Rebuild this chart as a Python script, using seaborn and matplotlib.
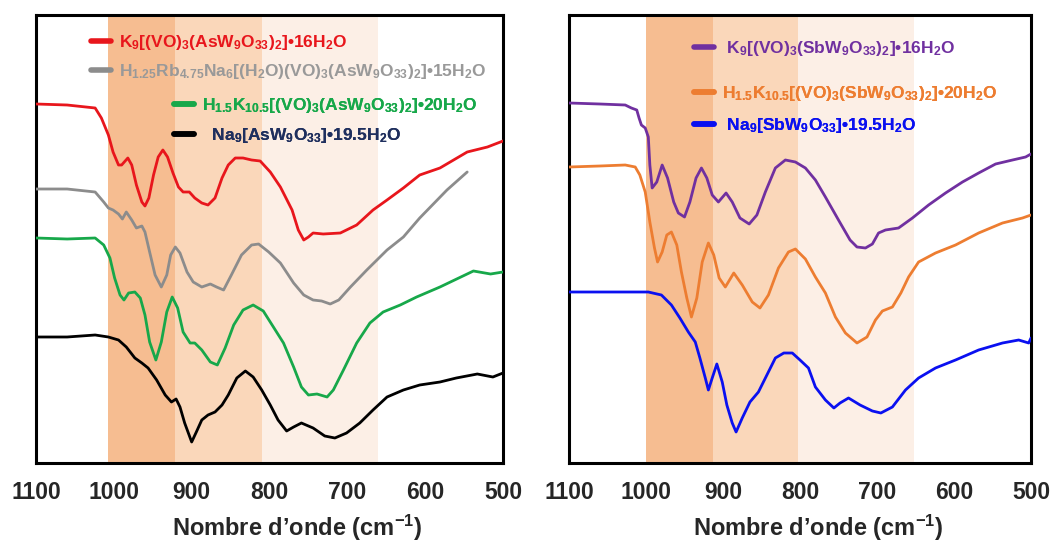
import numpy as np
import pandas as pd
import matplotlib
matplotlib.use("Agg")
import matplotlib.pyplot as plt
import matplotlib.lines as mlines
import seaborn as sns

sns.set_style("white")
plt.rcParams['font.family'] = ['Liberation Sans', 'DejaVu Sans']
plt.rcParams['mathtext.fontset'] = 'custom'
plt.rcParams['mathtext.rm'] = 'Liberation Sans:bold'
plt.rcParams['mathtext.it'] = 'Liberation Sans:bold'
plt.rcParams['mathtext.bf'] = 'Liberation Sans:bold'

# ---- left panel (As) ----
wn_red = [1100, 1060, 1024, 1016, 1007, 1001, 994, 990, 982, 977, 971, 964, 960, 955, 949, 943, 937, 931,
          924, 917, 911, 903, 896, 887, 879, 870, 861, 853, 844, 834, 823, 812, 799, 786, 771, 763,
          756, 750, 744, 731, 709, 688, 667, 649, 628, 607, 581, 546, 520, 500]
t_red = [359, 358, 355, 345, 328, 311, 298, 298, 305, 298, 278, 261, 257, 265, 288, 306, 313, 306,
         290, 276, 271, 271, 265, 260, 258, 265, 285, 298, 305, 305, 303, 302, 291, 276, 253, 233,
         223, 226, 230, 229, 230, 238, 253, 263, 275, 288, 295, 311, 316, 322]

wn_gray = [1100, 1060, 1024, 1013, 1007, 1001, 994, 989, 984, 977, 971, 964, 960, 954, 947, 939, 932, 927,
           921, 915, 906, 898, 887, 876, 868, 859, 849, 836, 823, 814, 801, 786, 769, 756, 744, 733,
           722, 711, 696, 675, 649, 628, 607, 572, 546]
t_gray = [274, 274, 271, 261, 255, 253, 249, 244, 251, 243, 235, 237, 231, 211, 188, 176, 188, 208,
          216, 210, 191, 181, 176, 179, 176, 173, 188, 208, 218, 219, 211, 200, 180, 168, 163, 162,
          159, 163, 176, 193, 213, 226, 245, 273, 291]

wn_green = [1100, 1060, 1024, 1013, 1005, 999, 992, 987, 981, 973, 966, 960, 954, 946, 939, 932, 925, 918,
            911, 902, 896, 887, 876, 867, 857, 846, 834, 821, 808, 795, 782, 769, 759, 750, 739,
            726, 718, 705, 688, 671, 654, 632, 611, 581, 538, 516, 500]
t_green = [225, 224, 225, 218, 205, 185, 168, 163, 170, 171, 165, 148, 121, 103, 121, 151, 166, 155,
           131, 120, 120, 113, 101, 98, 115, 138, 153, 158, 152, 136, 120, 96, 76, 68, 69,
           66, 73, 93, 120, 140, 151, 158, 166, 176, 192, 189, 191]

wn_black = [1100, 1060, 1024, 1007, 994, 984, 973, 964, 956, 945, 934, 926, 920, 915, 909, 900, 894, 887,
            879, 870, 861, 853, 842, 831, 821, 810, 799, 789, 778, 769, 759, 744, 729, 716, 701,
            684, 667, 649, 628, 607, 581, 560, 533, 513, 500]
t_black = [126, 126, 128, 126, 123, 116, 105, 100, 95, 83, 68, 61, 64, 56, 40, 21, 31, 43,
           48, 51, 58, 68, 85, 92, 86, 73, 58, 43, 32, 36, 40, 35, 27, 25, 30,
           40, 53, 66, 73, 78, 81, 85, 89, 86, 90]

# ---- right panel (Sb) ----
wn_purple = [1100, 1060, 1027, 1019, 1012, 1009, 1006, 1001, 997, 995, 992, 986, 979, 972, 964, 958, 950,
             943, 935, 928, 921, 914, 906, 896, 888, 878, 866, 856, 845, 832, 819, 806, 793, 780,
             767, 750, 735, 726, 715, 706, 698, 689, 672, 654, 633, 611, 589, 568, 546, 524, 507, 500]
t_purple = [360, 359, 358, 355, 353, 345, 338, 335, 326, 298, 275, 281, 298, 285, 261, 250, 246,
            261, 285, 295, 285, 268, 261, 270, 261, 245, 239, 248, 271, 295, 303, 301, 295, 283,
            266, 243, 223, 216, 215, 219, 230, 233, 235, 245, 258, 270, 281, 290, 299, 303, 306, 309]

wn_orange = [1100, 1060, 1027, 1014, 1008, 1001, 995, 989, 985, 979, 973, 967, 960, 954, 947, 941, 934,
             927, 919, 912, 905, 897, 886, 875, 862, 852, 841, 828, 815, 806, 793, 780, 767, 754,
             741, 726, 713, 702, 693, 680, 669, 659, 646, 624, 598, 568, 537, 511, 500]
t_orange = [296, 297, 298, 296, 288, 271, 241, 215, 201, 211, 228, 231, 218, 191, 165, 146, 165,
            201, 220, 208, 185, 176, 190, 178, 161, 155, 168, 195, 211, 214, 204, 186, 170, 146,
            130, 120, 126, 143, 152, 156, 170, 186, 201, 210, 218, 230, 240, 245, 248]

wn_blue = [1100, 1060, 1027, 997, 980, 967, 956, 945, 936, 930, 923, 919, 914, 908, 901, 895, 888, 883,
           875, 865, 854, 843, 832, 821, 810, 800, 789, 780, 767, 756, 748, 737, 722, 706, 695,
           680, 663, 646, 624, 598, 568, 537, 516, 503, 500]
t_blue = [171, 171, 171, 171, 168, 158, 145, 131, 121, 105, 85, 73, 85, 99, 81, 58, 40, 31,
          45, 61, 71, 88, 105, 110, 110, 103, 95, 76, 63, 55, 60, 65, 58, 52, 50,
          56, 73, 85, 95, 103, 113, 120, 123, 120, 125]

labels_as = [r"K$_9$[(VO)$_3$(AsW$_9$O$_{33}$)$_2$]•16H$_2$O",
             r"H$_{1.25}$Rb$_{4.75}$Na$_6$[(H$_2$O)(VO)$_3$(AsW$_9$O$_{33}$)$_2$]•15H$_2$O",
             r"H$_{1.5}$K$_{10.5}$[(VO)$_3$(AsW$_9$O$_{33}$)$_2$]•20H$_2$O",
             r"  Na$_9$[AsW$_9$O$_{33}$]•19.5H$_2$O"]
labels_sb = [r" K$_9$[(VO)$_3$(SbW$_9$O$_{33}$)$_2$]•16H$_2$O",
             r"H$_{1.5}$K$_{10.5}$[(VO)$_3$(SbW$_9$O$_{33}$)$_2$]•20H$_2$O",
             r" Na$_9$[SbW$_9$O$_{33}$]•19.5H$_2$O"]

colors_as = ['#E8161C', '#8C8C8C', '#17A84A', '#000000']
text_as = ['#E8161C', '#999999', '#17A84A', '#1F2F5E']
colors_sb = ['#7030A0', '#ED7D31', '#0A10F0']

bands_as = [(1008, 922, '#F6BD91'), (922, 810, '#FAD7BA'), (810, 660, '#FCEFE6')]
bands_sb = [(1000, 913, '#F6BD91'), (913, 803, '#FAD7BA'), (803, 652, '#FCEFE6')]

W, H = 1060, 544
fig = plt.figure(figsize=(W / 100, H / 100), dpi=100)
ax1 = fig.add_axes([36 / W, (H - 463) / H, 467 / W, 448 / H])
ax2 = fig.add_axes([569 / W, (H - 463) / H, 462 / W, 448 / H])


def style(ax, bands, labx):
    for a, b, c in bands:
        ax.axvspan(b, a, color=c, lw=0, zorder=0)
    ax.set_xlim(1100, 500)
    ax.set_ylim(0, 448)
    ax.set_xticks([1100, 1000, 900, 800, 700, 600, 500])
    ax.set_yticks([])
    ax.set_ylabel("")
    ax.tick_params(axis='x', direction='in', length=8, width=2, labelsize=16.5, pad=13)
    for t in ax.get_xticklabels():
        t.set_fontweight('bold')
    for s in ax.spines.values():
        s.set_linewidth(2.2)
        s.set_color('black')
    ax.set_xlabel("Nombre d’onde (cm$^{-1}$)", fontsize=17, fontweight='bold')
    ax.xaxis.set_label_coords(labx, -0.112)


series_as = [(wn_red, t_red), (wn_gray, t_gray), (wn_green, t_green), (wn_black, t_black)]
series_sb = [(wn_purple, t_purple), (wn_orange, t_orange), (wn_blue, t_blue)]

for (w, t), c in zip(series_as, colors_as):
    df = pd.DataFrame({'wn': w, 't': t})
    sns.lineplot(data=df, x='wn', y='t', ax=ax1, color=c, lw=2.0, estimator=None, sort=False, zorder=3)

for (w, t), c in zip(series_sb, colors_sb):
    df = pd.DataFrame({'wn': w, 't': t})
    sns.lineplot(data=df, x='wn', y='t', ax=ax2, color=c, lw=2.0, estimator=None, sort=False, zorder=3)

style(ax1, bands_as, 0.56)
style(ax2, bands_sb, 0.54)

prop = {'family': 'Liberation Sans', 'weight': 'bold', 'size': 12.5}


def proxies(cols):
    return [mlines.Line2D([], [], color=c, lw=4) for c in cols]


def add_legend(ax, cols, labs, tcols, x, y, spacing):
    lg = ax.legend(proxies(cols), labs, loc='upper left', bbox_to_anchor=(x, y),
                   frameon=False, prop=prop, handlelength=1.15, handletextpad=0.46,
                   borderpad=0, borderaxespad=0, labelspacing=spacing, labelcolor=tcols)
    ax.add_artist(lg)


add_legend(ax1, colors_as[:2], labels_as[:2], text_as[:2], 0.118, 0.96, 0.6)
add_legend(ax1, colors_as[2:], labels_as[2:], text_as[2:], 0.296, 0.819, 0.63)
add_legend(ax2, colors_sb[:1], labels_sb[:1], colors_sb[:1], 0.27, 0.946, 0.6)
add_legend(ax2, colors_sb[1:], labels_sb[1:], colors_sb[1:], 0.27, 0.846, 0.77)

fig.savefig("out.png", dpi=100)
